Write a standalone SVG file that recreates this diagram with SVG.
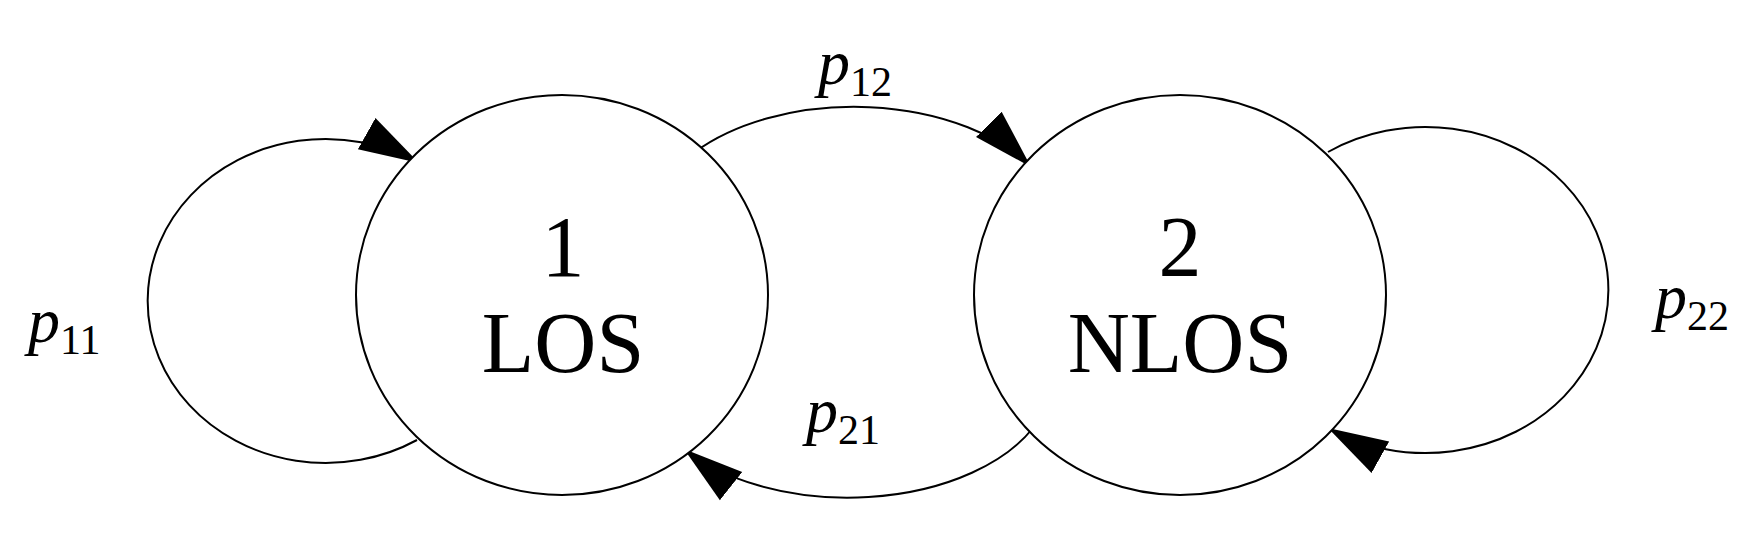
<svg xmlns="http://www.w3.org/2000/svg" width="1758" height="538" viewBox="0 0 1758 538">
<style>
.n{fill:#fff;stroke:#000;stroke-width:2}
.c{fill:none;stroke:#000;stroke-width:2;marker-end:url(#ah)}
text{font-family:"Liberation Serif","DejaVu Serif",serif;fill:#000}
.big{font-size:86px;text-anchor:middle}
.p{font-size:64px;font-style:italic}
.s{font-size:42px;font-style:normal}
</style>
<defs>
<marker id="ah" markerUnits="userSpaceOnUse" markerWidth="60" markerHeight="40" viewBox="0 0 50 30" refX="50" refY="15" orient="auto">
<path d="M0,0 L50,15 L0,30 Z" fill="#000"/>
</marker>
</defs>
<rect width="1758" height="538" fill="#fff"/>
<g id="connectors">
<path class="c" d="M417,440 A178,162 0 1 1 419,163"/>
<path class="c" d="M695,152 A205,122 0 0 1 1031,167"/>
<path class="c" d="M1033,428 A205,122 0 0 1 684,449"/>
<path class="c" d="M1328,152 A183,163 0 1 1 1328,428"/>
</g>
<g id="node1">
<ellipse class="n" cx="562" cy="295" rx="206" ry="200"/>
<text class="big" x="563" y="276">1</text>
<text class="big" x="563" y="372">LOS</text>
</g>
<g id="node2">
<ellipse class="n" cx="1180" cy="295" rx="206" ry="200"/>
<text class="big" x="1180" y="276">2</text>
<text class="big" x="1180" y="372">NLOS</text>
</g>
<g id="labels">
<text class="p" x="28" y="342">p<tspan class="s" dy="12">11</tspan></text>
<text class="p" x="818" y="84">p<tspan class="s" dy="12">12</tspan></text>
<text class="p" x="806" y="432">p<tspan class="s" dy="12">21</tspan></text>
<text class="p" x="1655" y="318">p<tspan class="s" dy="12">22</tspan></text>
</g>
</svg>
